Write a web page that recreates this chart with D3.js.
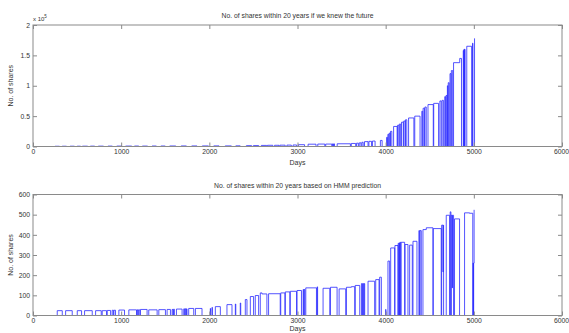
<!DOCTYPE html>
<html>
<head>
<meta charset="utf-8">
<script src="https://cdn.jsdelivr.net/npm/d3@7"></script>
<style>
  body { margin: 0; background: #fff; }
  text { font-family: "Liberation Sans", Arial, sans-serif; fill: #333; }
</style>
</head>
<body>
<svg id="chart" width="569" height="333"></svg>
<script>
// ---- data -------------------------------------------------------------
// Holdings are stored as change points: from each day on, the number of shares held.
const dayTicks = [0, 1000, 2000, 3000, 4000, 5000, 6000];
const futureTicks = [0, 50000, 100000, 150000, 200000];   // labelled in units of 10^5
const hmmTicks = [0, 100, 200, 300, 400, 500, 600];

const futureDays = [
  0, 250, 300, 330, 380, 420, 470, 500, 540, 560, 620, 650, 700, 740, 800, 850, 900,
  950, 1010, 1050, 1120, 1150, 1200, 1240, 1300, 1350, 1400, 1450, 1500, 1550, 1620,
  1680, 1740, 1800, 1860, 1920, 1990, 2050, 2110, 2180, 2250, 2300, 2350, 2420, 2480,
  2500, 2560, 2590, 2650, 2660, 2720, 2740, 2790, 2800, 2860, 2880, 2930, 2950, 2990,
  3010, 3080, 3120, 3210, 3230, 3310, 3320, 3390, 3395, 3405, 3410, 3420, 3450, 3600,
  3610, 3660, 3670, 3690, 3700, 3720, 3730, 3745, 3760, 3800, 3810, 3840, 3850, 3880,
  3940, 3960, 4010, 4020, 4025, 4035, 4040, 4050, 4055, 4070, 4090, 4130, 4135, 4150,
  4155, 4170, 4180, 4200, 4205, 4220, 4225, 4240, 4260, 4320, 4330, 4390, 4410, 4420,
  4425, 4440, 4445, 4460, 4480, 4540, 4545, 4600, 4615, 4630, 4640, 4655, 4670, 4680,
  4685, 4695, 4700, 4705, 4710, 4720, 4730, 4740, 4745, 4760, 4770, 4840, 4860, 4880,
  4885, 4888, 4893, 4896, 4900, 4920, 4975, 4985, 4990, 5008
];
const futureShares = [
  0, 400, 0, 450, 0, 500, 0, 500, 0, 550, 0, 600, 0, 600, 0, 650, 0,
  700, 0, 700, 0, 750, 0, 700, 0, 800, 0, 800, 0, 850, 0,
  900, 0, 900, 0, 950, 0, 1000, 0, 1000, 0, 1100, 0, 1400, 0,
  1500, 0, 1800, 0, 2000, 0, 2000, 0, 2200, 0, 2300, 0, 2500, 0,
  3000, 0, 3800, 0, 4000, 0, 4000, 0, 4200, 0, 4300, 0, 4500, 0,
  5000, 0, 5500, 0, 6000, 0, 7000, 0, 8000, 0, 8500, 0, 9000, 0,
  10000, 0, 15000, 0, 20000, 0, 22000, 0, 25000, 0, 33000, 0, 35000, 0,
  37000, 0, 40000, 0, 42000, 0, 44000, 0, 47000, 0, 50000, 0, 58000, 0,
  63000, 0, 65000, 0, 69000, 0, 71000, 0, 75000, 0, 76000, 0, 82000, 0,
  84000, 0, 100000, 0, 105000, 0, 120000, 0, 125000, 0, 138000, 145000, 0, 158000,
  0, 160000, 0, 160000, 0, 165000, 0, 170000, 0, 178000
];

const hmmDays = [
  0, 275, 332, 370, 445, 502, 551, 585, 672, 710, 774, 785, 834, 842, 880, 898, 912,
  918, 936, 974, 1038, 1087, 1174, 1181, 1190, 1195, 1211, 1219, 1294, 1313, 1408,
  1427, 1502, 1521, 1559, 1578, 1588, 1594, 1604, 1627, 1691, 1710, 1720, 1726, 1735,
  1740, 1747, 1766, 1823, 1842, 1917, 2011, 2014, 2030, 2035, 2068, 2125, 2200, 2257,
  2295, 2300, 2351, 2356, 2408, 2427, 2465, 2502, 2521, 2559, 2578, 2597, 2653, 2672,
  2804, 2810, 2857, 2862, 2913, 2918, 2989, 2995, 3045, 3064, 3070, 3075, 3083, 3094,
  3215, 3223, 3228, 3290, 3366, 3374, 3449, 3472, 3547, 3555, 3611, 3649, 3655, 3706,
  3725, 3735, 3740, 3750, 3755, 3762, 3800, 3875, 3887, 3925, 3932, 3951, 4000, 4003,
  4026, 4045, 4057, 4102, 4105, 4140, 4142, 4150, 4155, 4159, 4162, 4170, 4175, 4215,
  4220, 4253, 4272, 4302, 4310, 4355, 4377, 4385, 4390, 4404, 4423, 4461, 4536, 4540,
  4630, 4635, 4650, 4653, 4657, 4687, 4725, 4732, 4740, 4744, 4755, 4758, 4770, 4781,
  4838, 4895, 4951, 4988, 4992, 4995, 4998, 5003
];
const hmmShares = [
  0, 24, 0, 24, 0, 24, 0, 24, 0, 24, 0, 24, 0, 25, 0, 26, 0,
  26, 0, 27, 0, 28, 0, 28, 0, 28, 0, 30, 0, 28, 0,
  29, 0, 30, 0, 30, 0, 31, 0, 32, 0, 33, 0, 33, 0,
  33, 0, 35, 0, 35, 0, 35, 0, 40, 0, 44, 0, 54, 0,
  57, 0, 62, 0, 79, 0, 94, 0, 99, 0, 112, 107, 0, 108,
  0, 112, 0, 117, 0, 120, 0, 124, 0, 129, 0, 129, 0, 137,
  0, 142, 0, 135, 0, 140, 0, 132, 0, 140, 143, 0, 149, 0,
  158, 0, 158, 0, 158, 0, 170, 0, 178, 0, 190, 0, 30, 0,
  270, 0, 335, 0, 347, 0, 358, 0, 360, 0, 363, 0, 363, 0,
  352, 0, 349, 0, 368, 0, 421, 0, 421, 0, 426, 435, 0, 431,
  0, 448, 216, 448, 0, 497, 0, 514, 0, 497, 137, 497, 0, 479,
  0, 509, 507, 0, 260, 0, 260, 524
];

// ---- layout -----------------------------------------------------------
const svg = d3.select("#chart");
const left = 33, right = 562;
const panels = [
  { top: 25, bottom: 146.5, days: futureDays, shares: futureShares,
    max: 200000, ticks: futureTicks, fmt: v => d3.format("~g")(v / 1e5),
    title: "No. of shares within 20 years if we knew the future", exponent: true, xlabelY: 165 },
  { top: 194.5, bottom: 315.5, days: hmmDays, shares: hmmShares,
    max: 600, ticks: hmmTicks, fmt: d3.format("d"),
    title: "No. of shares within 20 years based on HMM prediction", exponent: false, xlabelY: 331 }
];

const x = d3.scaleLinear().domain([0, 6000]).range([left, right]);
const axisGrey = "#8a8a8a";
const tick = 4;

panels.forEach(p => {
  const y = d3.scaleLinear().domain([0, p.max]).range([p.bottom, p.top]);
  const g = svg.append("g");

  // holdings trace
  const pts = p.days.map((d, i) => [d, p.shares[i]]);
  g.append("path")
    .datum(pts)
    .attr("fill", "none")
    .attr("stroke", "#2a2aff")
    .attr("stroke-width", 0.8)
    .attr("d", d3.line().x(d => x(d[0])).y(d => y(d[1])).curve(d3.curveStepAfter));

  const styleAxis = sel => {
    sel.select(".domain").remove();
    sel.selectAll("line").attr("stroke", axisGrey);
    sel.selectAll("text").attr("font-size", 6.8).attr("fill", "#3a3a3a")
      .attr("font-family", "'Liberation Sans', Arial, sans-serif");
  };

  g.append("g").attr("transform", `translate(0,${p.bottom})`)
    .call(d3.axisBottom(x).tickValues(dayTicks).tickSize(-tick).tickPadding(3).tickFormat(d3.format("d")))
    .call(styleAxis)
    .call(a => a.selectAll(".tick").filter(d => d === 6000).select("text").attr("text-anchor", "end").attr("dx", 6.5));
  g.append("g").attr("transform", `translate(0,${p.top})`)
    .call(d3.axisTop(x).tickValues(dayTicks).tickSize(-tick).tickFormat(""))
    .call(styleAxis);
  g.append("g").attr("transform", `translate(${left},0)`)
    .call(d3.axisLeft(y).tickValues(p.ticks).tickSize(-tick).tickPadding(3).tickFormat(p.fmt))
    .call(styleAxis);
  g.append("g").attr("transform", `translate(${right},0)`)
    .call(d3.axisRight(y).tickValues(p.ticks).tickSize(-tick).tickFormat(""))
    .call(styleAxis);

  // axes box
  g.append("rect")
    .attr("x", left).attr("y", p.top)
    .attr("width", right - left).attr("height", p.bottom - p.top)
    .attr("fill", "none").attr("stroke", axisGrey).attr("stroke-width", 1);

  g.append("text")
    .attr("x", (left + right) / 2).attr("y", p.top - 7)
    .attr("text-anchor", "middle").attr("font-size", 6.8)
    .text(p.title);

  g.append("text")
    .attr("x", (left + right) / 2).attr("y", p.xlabelY)
    .attr("text-anchor", "middle").attr("font-size", 7)
    .text("Days");

  g.append("text")
    .attr("transform", `translate(13,${(p.top + p.bottom) / 2}) rotate(-90)`)
    .attr("text-anchor", "middle").attr("font-size", 7)
    .text("No. of shares");

  if (p.exponent) {
    const t = g.append("text").attr("x", left).attr("y", p.top - 4).attr("font-size", 6);
    t.append("tspan").text("x 10");
    t.append("tspan").attr("dy", -3).attr("font-size", 4.5).text("5");
  }
});
</script>
</body>
</html>
